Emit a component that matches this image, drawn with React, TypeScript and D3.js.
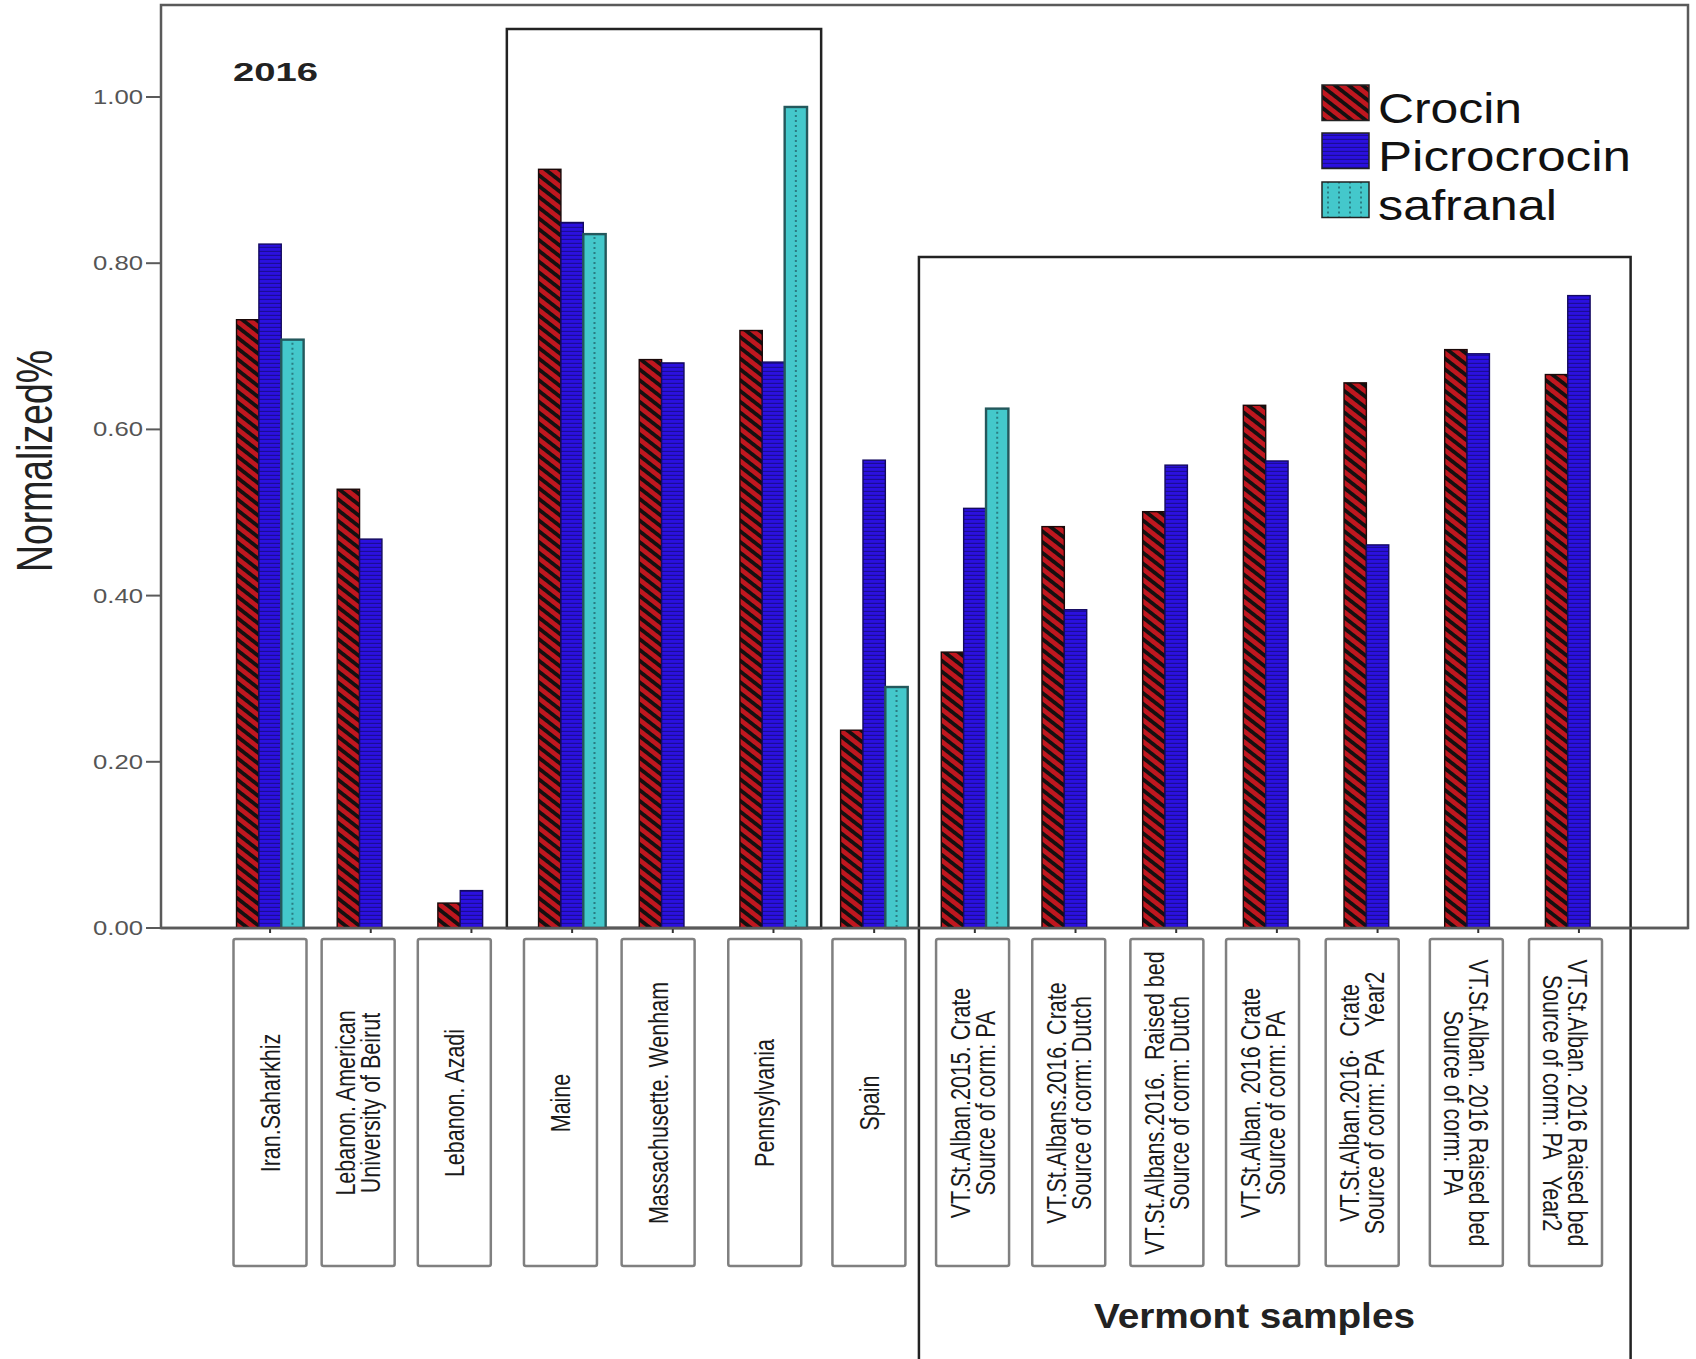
import React from 'react';
import * as d3 from 'd3';

// Sample names, one entry per category; each inner array is the lines of its label.
const categoryLabels: string[][] = [
  ['Iran.Saharkhiz'],
  ['Lebanon. American', 'University of Beirut'],
  ['Lebanon. Azadi'],
  ['Maine'],
  ['Massachusette. Wenham'],
  ['Pennsylvania'],
  ['Spain'],
  ['VT.St.Alban.2015. Crate', 'Source of corm: PA'],
  ['VT.St.Albans.2016. Crate', 'Source of corm: Dutch'],
  ['VT.St.Albans.2016.  Raised bed', 'Source of corm: Dutch'],
  ['VT.St.Alban. 2016 Crate', 'Source of corm: PA'],
  ['VT.St.Alban.2016\u00b7  Crate', 'Source of corm: PA    Year2'],
  ['VT.St.Alban. 2016 Raised bed', 'Source of corm: PA'],
  ['VT.St.Alban. 2016 Raised bed', 'Source of corm: PA   Year2'],
];

// Labels that read top-to-bottom instead of bottom-to-top.
const labelsReadingDown = [false, false, false, false, false, false, false, false, false, false, false, false, true, true];

const seriesNames = ['Crocin', 'Picrocrocin', 'safranal'];

const crocin = [0.732, 0.528, 0.030, 0.913, 0.684, 0.719, 0.238, 0.332, 0.483, 0.501, 0.629, 0.656, 0.696, 0.666];
const picrocrocin = [0.823, 0.468, 0.045, 0.849, 0.680, 0.681, 0.563, 0.505, 0.383, 0.557, 0.562, 0.461, 0.691, 0.761];
const safranal: (number | null)[] = [0.708, null, null, 0.835, null, 0.988, 0.290, 0.625, null, null, null, null, null, null];

const yTicks = [0, 0.2, 0.4, 0.6, 0.8, 1.0];

const yearLabel = '2016';
const groupLabel = 'Vermont samples';
const yTitle = 'Normalized%';

const FONT = '"Liberation Sans", Arial, sans-serif';

// The hand-placed label frames drift a little from an even spacing (px).
const boxNudge = [0, -11.5, -15, -8.5, -10.5, -3.5, 1, 5, 1.5, 0, -4, -4, 0.5, 0];

export default function App() {
  const W = 1696;
  const H = 1359;
  const frame = { left: 161, top: 5, right: 1688, bottom: 928 };

  const keys = categoryLabels.map((l, i) => `${i}:${l.join(' ')}`);
  const x = d3
    .scaleBand<string>()
    .domain(keys)
    .range([frame.left, frame.right])
    .paddingInner(1 / 3)
    .paddingOuter(0.75);
  const xs = d3.scaleBand<string>().domain(seriesNames).range([0, x.bandwidth()]);
  const y = d3.scaleLinear().domain([0, 1]).range([frame.bottom, 97]);

  // Label frames sit on their own evenly spaced row under the axis.
  const boxX = d3.scalePoint<string>().domain(keys).range([270, 1565.5]);
  const boxW = 73;
  const boxTop = 939;
  const boxBottom = 1266;
  const labelCenterY = 1103;

  const seriesValues = [crocin, picrocrocin, safranal];
  const fills = ['url(#crocinPat)', 'url(#picroPat)', '#44c8cb'];
  const strokes = ['#1a0808', '#140a60', '#24585c'];

  const step = x.step();
  const maineL = (x(keys[3]) as number) - step * 0.315;
  const pennR = (x(keys[5]) as number) + x.bandwidth() + step * 0.14;
  const vtL = (x(keys[7]) as number) - step * 0.222;
  const vtR = (x(keys[13]) as number) + x.bandwidth() + step * 0.18;

  const fs = 21.5;
  const sx = 1.25;
  const lineGap = 20;

  const legendItems = [
    { name: seriesNames[0], y: 85, len: 144, fill: 'url(#crocinPat)' },
    { name: seriesNames[1], y: 133, len: 253, fill: 'url(#picroPat)' },
    { name: seriesNames[2], y: 182, len: 179, fill: 'url(#safPat)' },
  ];

  return (
    <svg
      width={W}
      height={H}
      viewBox={`0 0 ${W} ${H}`}
      style={{ position: 'absolute', left: 0, top: 0, background: '#fff' }}
      fontFamily={FONT}
    >
      <defs>
        <pattern id="crocinPat" patternUnits="userSpaceOnUse" width={24} height={8.5} patternTransform="rotate(38)">
          <rect width={24} height={8.5} fill="#c0171f" />
          <rect width={24} height={3.8} fill="#141010" />
        </pattern>
        <pattern id="picroPat" patternUnits="userSpaceOnUse" width={10} height={4}>
          <rect width={10} height={4} fill="#2b10e0" />
          <rect y={2.8} width={10} height={1.2} fill="#1b0c96" />
        </pattern>
        <pattern id="safPat" patternUnits="userSpaceOnUse" width={11} height={5} x={1322} y={85}>
          <rect width={11} height={5} fill="#44c8cb" />
          <rect x={5} y={1.5} width={2} height={2} fill="#2a7d83" />
        </pattern>
      </defs>

      <rect width={W} height={H} fill="#fff" />

      {/* plot frame */}
      <rect
        x={frame.left}
        y={frame.top}
        width={frame.right - frame.left}
        height={frame.bottom - frame.top}
        fill="none"
        stroke="#5a5a5a"
        strokeWidth={2.5}
      />

      {/* y axis ticks and labels */}
      {yTicks.map((t) => (
        <g key={t}>
          <line x1={frame.left - 15} x2={frame.left} y1={y(t)} y2={y(t)} stroke="#5a5a5a" strokeWidth={2} />
          <text
            x={143}
            y={y(t) + 7}
            textAnchor="end"
            fontSize={19.5}
            fill="#555"
            textLength={50}
            lengthAdjust="spacingAndGlyphs"
          >
            {d3.format('.2f')(t)}
          </text>
        </g>
      ))}

      <text
        transform={`translate(52, 461) rotate(-90)`}
        textAnchor="middle"
        fontSize={50}
        fill="#222"
        textLength={222}
        lengthAdjust="spacingAndGlyphs"
      >
        {yTitle}
      </text>

      <text
        x={233}
        y={81}
        fontSize={26.5}
        fontWeight="bold"
        fill="#222"
        textLength={85}
        lengthAdjust="spacingAndGlyphs"
      >
        {yearLabel}
      </text>

      {/* grouping boxes */}
      <rect x={maineL} y={29} width={pennR - maineL} height={frame.bottom - 29} fill="none" stroke="#222" strokeWidth={2.5} />
      <rect x={vtL} y={257} width={vtR - vtL} height={H + 20 - 257} fill="none" stroke="#222" strokeWidth={2.5} />

      {/* bars */}
      {keys.map((k, ci) => (
        <g key={k} transform={`translate(${x(k)},0)`}>
          {seriesValues.map((vals, si) => {
            const v = vals[ci];
            if (v == null) return null;
            const bx = xs(seriesNames[si]) as number;
            const bw = xs.bandwidth();
            return (
              <g key={si}>
                <rect
                  x={bx}
                  y={y(v)}
                  width={bw}
                  height={y(0) - y(v)}
                  fill={fills[si]}
                  stroke={strokes[si]}
                  strokeWidth={si === 2 ? 2.4 : 1.4}
                />
                {si === 2 && (
                  <line
                    x1={bx + bw / 2}
                    x2={bx + bw / 2}
                    y1={y(v) + 3}
                    y2={y(0)}
                    stroke="#2a7d83"
                    strokeWidth={2}
                    strokeDasharray="2 3"
                  />
                )}
              </g>
            );
          })}
          <line
            x1={x.bandwidth() / 2}
            x2={x.bandwidth() / 2}
            y1={frame.bottom}
            y2={frame.bottom + 5}
            stroke="#333"
            strokeWidth={2}
          />
        </g>
      ))}

      {/* redraw axis line over the bar bases */}
      <line x1={frame.left} x2={frame.right} y1={frame.bottom} y2={frame.bottom} stroke="#5a5a5a" strokeWidth={2.5} />

      {/* category label frames */}
      {keys.map((k, ci) => {
        const cx = (boxX(k) as number) + boxNudge[ci];
        const lines = categoryLabels[ci];
        const down = labelsReadingDown[ci];
        const n = lines.length;
        return (
          <g key={k}>
            <rect
              x={cx - boxW / 2}
              y={boxTop}
              width={boxW}
              height={boxBottom - boxTop}
              rx={2}
              fill="#fff"
              stroke="#808080"
              strokeWidth={2.5}
            />
            <g transform={`translate(${cx},${labelCenterY}) scale(${sx},1) rotate(${down ? 90 : -90})`}>
              {lines.map((line, li) => (
                <text
                  key={li}
                  x={0}
                  y={(li - (n - 1) / 2) * lineGap + 0.36 * fs}
                  textAnchor="middle"
                  fontSize={fs}
                  fill="#1a1a1a"
                  style={{ whiteSpace: 'pre' }}
                >
                  {line}
                </text>
              ))}
            </g>
          </g>
        );
      })}

      <text
        x={1254.5}
        y={1328}
        textAnchor="middle"
        fontSize={35}
        fontWeight="bold"
        fill="#222"
        textLength={321}
        lengthAdjust="spacingAndGlyphs"
      >
        {groupLabel}
      </text>

      {/* legend */}
      {legendItems.map((it) => (
        <g key={it.name}>
          <rect x={1322} y={it.y} width={47} height={35.5} fill={it.fill} stroke="#222" strokeWidth={1.5} />
          <text
            x={1378}
            y={it.y + 38}
            fontSize={42}
            fill="#111"
            textLength={it.len}
            lengthAdjust="spacingAndGlyphs"
          >
            {it.name}
          </text>
        </g>
      ))}
    </svg>
  );
}
